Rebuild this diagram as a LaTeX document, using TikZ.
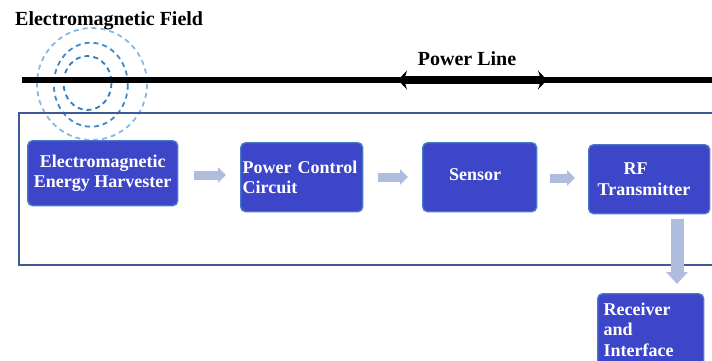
\documentclass[tikz,border=0pt]{standalone}
\usepackage{fontspec}
\setmainfont{Liberation Serif}
\usetikzlibrary{arrows.meta,calc}

\definecolor{boxfill}{HTML}{3D45C9}
\definecolor{boxline}{HTML}{4A78C8}
\definecolor{flowcol}{HTML}{B0BCDD}
\definecolor{framecol}{HTML}{3C5A9A}
\definecolor{waveA}{HTML}{2E7CC2}
\definecolor{waveB}{HTML}{3B8AD0}
\definecolor{waveC}{HTML}{86B8E4}

\tikzset{
  blockbox/.style={draw=boxline, line width=1.4pt, fill=boxfill, rounded corners=5pt,
    text=white, font=\fontsize{18}{20.5}\selectfont\bfseries, anchor=north west},
  flowarrow/.style={draw=flowcol, line width=9pt,
    -{Triangle[width=15pt,length=8pt]}},
  downarrow/.style={draw=flowcol, line width=13pt,
    -{Triangle[width=21pt,length=12pt]}},
  wave/.style={line width=1.8pt, dash pattern=on 5pt off 4pt},
  caption/.style={font=\fontsize{20}{22}\selectfont\bfseries, text=black, inner sep=0pt}
}

\begin{document}
\begin{tikzpicture}[x=1pt,y=-1pt]
\useasboundingbox (0,0) rectangle (712,360);
\begin{scope}
\clip (0,0) rectangle (712,360);

% field lines around the conductor
\draw[wave, waveC] (92,84) ellipse [x radius=55, y radius=56];
\draw[wave, waveB] (90.8,84.7) ellipse [x radius=37, y radius=42];
\draw[wave, waveA] (87.5,83) ellipse [x radius=24, y radius=27];

% power line
\coordinate (plw) at (22,80);
\coordinate (ple) at (712,80);
\coordinate (pla) at (398,80);
\coordinate (plb) at (547,80);
\draw[line width=5.5pt] (plw) -- (ple);
\draw[line width=8.5pt, {Stealth[length=9pt,width=19pt,inset=3pt]}-{Stealth[length=9pt,width=19pt,inset=3pt]}] (pla) -- (plb);

% enclosing frame, open to the right
\draw[framecol, line width=1.5pt] (712,113) -| (19,265) -- (712,265);

% blocks
\node[blockbox, minimum width=150pt, minimum height=65pt, align=center] (harv) at (27,140)
  {Electromagnetic\\Energy Harvester};
\node[blockbox, text width=118pt, inner xsep=2pt, minimum height=69pt, align=left] (pcc) at (240,142)
  {\mbox{Power Control}\\Circuit};
\node[blockbox, minimum width=114pt, minimum height=69pt, text depth=6pt] (sens) at (422,142)
  {Sensor\hspace*{9pt}};
\node[blockbox, text width=103pt, inner xsep=9pt, minimum height=69pt, align=left] (rf) at (588,144)
  {\hspace*{26pt}RF\\Transmitter};
\node[blockbox, text width=94pt, inner xsep=6pt, minimum height=72pt, align=left] (recv) at (597,293)
  {Receiver\\and\\Interface};

% signal flow
\draw[flowarrow, shorten <=16pt, shorten >=14pt] (harv.east |- 0,175) -- (pcc.west |- 0,175);
\draw[flowarrow, shorten <=15pt, shorten >=14pt] (pcc.east |- 0,177) -- (sens.west |- 0,177);
\draw[flowarrow, shorten <=13pt, shorten >=13pt] (sens.east |- 0,178) -- (rf.west |- 0,178);
\draw[downarrow, shorten <=5pt, shorten >=9pt] (rf.south -| 677,0) -- (recv.north -| 677,0);

% captions
\node[caption, anchor=base west] (fieldlbl) at (15,25) {Electromagnetic Field};
\node[caption, anchor=base] (linelbl) at (467,65) {Power Line};
\end{scope}
\end{tikzpicture}
\end{document}
